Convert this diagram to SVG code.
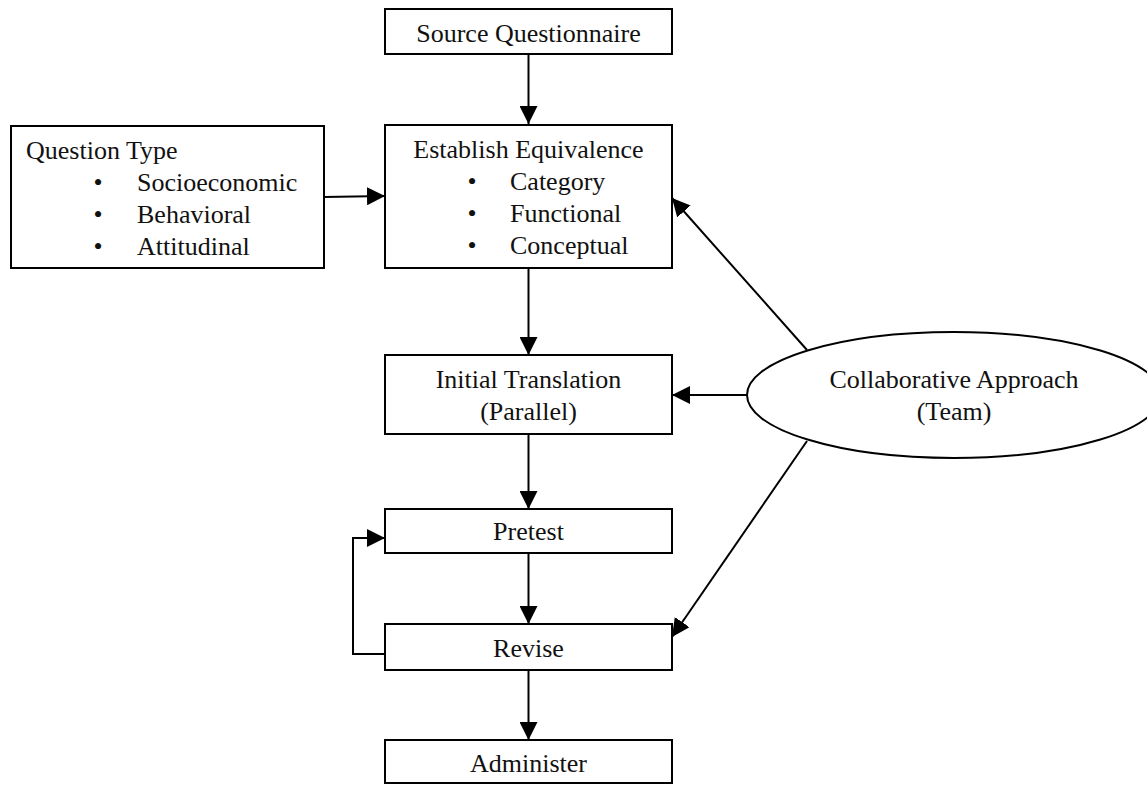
<svg xmlns="http://www.w3.org/2000/svg" width="1147" height="787" viewBox="0 0 1147 787">
<style>
  .box { fill: #fff; stroke: #000; stroke-width: 2; }
  .t { font-family: "Liberation Serif", "Times New Roman", serif; font-size: 26px; fill: #111; }
  .c { text-anchor: middle; }
  .ln { stroke: #000; stroke-width: 2; fill: none; marker-end: url(#ah); }
</style>
<defs>
  <marker id="ah" markerUnits="userSpaceOnUse" markerWidth="18" markerHeight="18" refX="18" refY="9" orient="auto" viewBox="0 0 18 18">
    <path d="M0,0 L18,9 L0,18 z" fill="#000"/>
  </marker>
</defs>
<rect width="1147" height="787" fill="#fff"/>

<g id="connectors">
  <line class="ln" x1="528.5" y1="54" x2="528.5" y2="124"/>
  <line class="ln" x1="324" y1="197" x2="385" y2="196"/>
  <line class="ln" x1="528.5" y1="268" x2="528.5" y2="355"/>
  <line class="ln" x1="528.5" y1="434" x2="528.5" y2="509"/>
  <line class="ln" x1="528.5" y1="553" x2="528.5" y2="624"/>
  <line class="ln" x1="528.5" y1="670" x2="528.5" y2="740"/>
  <polyline class="ln" points="385,654 353,654 353,538 385,538"/>
  <line class="ln" x1="807" y1="350" x2="672" y2="198"/>
  <line class="ln" x1="747" y1="395" x2="672" y2="395"/>
  <line class="ln" x1="807" y1="441" x2="672" y2="637"/>
</g>

<g id="source">
  <rect class="box" x="385" y="9" width="287" height="45"/>
  <text class="t c" x="528.5" y="42">Source Questionnaire</text>
</g>

<g id="question-type">
  <rect class="box" x="11" y="126" width="313" height="142"/>
  <text class="t" x="26" y="159">Question Type</text>
  <text class="t c" x="98" y="191">•</text>
  <text class="t" x="137" y="191">Socioeconomic</text>
  <text class="t c" x="98" y="223">•</text>
  <text class="t" x="137" y="223">Behavioral</text>
  <text class="t c" x="98" y="255">•</text>
  <text class="t" x="137" y="255">Attitudinal</text>
</g>

<g id="establish">
  <rect class="box" x="385" y="125" width="287" height="143"/>
  <text class="t c" x="528.5" y="158">Establish Equivalence</text>
  <text class="t c" x="472" y="190">•</text>
  <text class="t" x="510" y="190">Category</text>
  <text class="t c" x="472" y="222">•</text>
  <text class="t" x="510" y="222">Functional</text>
  <text class="t c" x="472" y="254">•</text>
  <text class="t" x="510" y="254">Conceptual</text>
</g>

<g id="initial">
  <rect class="box" x="385" y="355" width="287" height="79"/>
  <text class="t c" x="528.5" y="388">Initial Translation</text>
  <text class="t c" x="528.5" y="420">(Parallel)</text>
</g>

<g id="pretest">
  <rect class="box" x="385" y="509" width="287" height="44"/>
  <text class="t c" x="528.5" y="540">Pretest</text>
</g>

<g id="revise">
  <rect class="box" x="385" y="624" width="287" height="46"/>
  <text class="t c" x="528.5" y="657">Revise</text>
</g>

<g id="administer">
  <rect class="box" x="385" y="740" width="287" height="43"/>
  <text class="t c" x="528.5" y="772">Administer</text>
</g>

<g id="collaborative">
  <ellipse class="box" cx="954" cy="395" rx="207" ry="63"/>
  <text class="t c" x="954" y="388">Collaborative Approach</text>
  <text class="t c" x="954" y="420">(Team)</text>
</g>
</svg>
